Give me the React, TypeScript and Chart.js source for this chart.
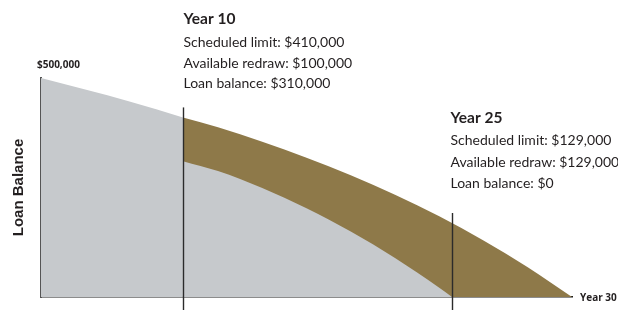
import React, { useEffect, useRef } from "react";
import { Chart, registerables } from "chart.js";

Chart.register(...registerables);

// Horizontal positions are read along the drawn axis (0 = start, 30 = "Year 30").
const earlyPos = [0, 2.5, 5, 8.02];
const earlyLimit = [500000, 473560, 446370, 410000];

const latePos = [8.02, 10, 12.5, 15, 17.5, 20, 22.5, 25, 27.5, 30];
const lateLimit = [410000, 387330, 354250, 318010, 278010, 233610, 184200, 129200, 68030, 0];

const balancePos = [8.02, 10, 12.5, 15, 17.5, 20, 22.5, 23.22];
const balanceValues = [310000, 287400, 248600, 202600, 149500, 88900, 21000, 0];

const markerPos = [8.02, 23.22];
const markerLimit = [410000, 169000];
const markerTitles = ["Year 10", "Year 25"];
const markerLines = [
  ["Scheduled limit: $410,000", "Available redraw: $100,000", "Loan balance: $310,000"],
  ["Scheduled limit: $129,000", "Available redraw: $129,000", "Loan balance: $0"],
];
const markerTitleY = [19, 118];
const markerLineGap = [20.3, 21.3];
const markerFirstGap = [23.7, 22.7];

const yMaxLabel = "$500,000";
const xEndLabel = "Year 30";
const yTitle = "Loan Balance";

const GRAY = "#C6C9CC";
const BROWN = "#8E7949";
const TEXT = "#231F20";
const FONT = "Lato, 'Open Sans', sans-serif";
const SMALL_FONT = "'Open Sans', Lato, sans-serif";

const toPts = (xs: number[], ys: number[]) => xs.map((x, i) => ({ x, y: ys[i] }));

export default function App() {
  const ref = useRef<HTMLCanvasElement | null>(null);

  useEffect(() => {
    document.body.style.margin = "0";
    const canvas = ref.current;
    if (!canvas) return;

    const annot = {
      id: "annot",
      afterDatasetsDraw(chart: any) {
        const { ctx, chartArea, scales } = chart;
        const xs = scales.x;
        const ys = scales.y;
        ctx.save();
        markerPos.forEach((p, i) => {
          const px = Math.round(xs.getPixelForValue(p)) + 0.5;
          const top = ys.getPixelForValue(markerLimit[i]) - 10;
          ctx.strokeStyle = "#2b2b2b";
          ctx.lineWidth = 1.4;
          ctx.beginPath();
          ctx.moveTo(px, top);
          ctx.lineTo(px, chart.height);
          ctx.stroke();

          const tx = px - (i === 0 ? 0 : 2);
          ctx.fillStyle = TEXT;
          ctx.textBaseline = "middle";
          ctx.textAlign = "left";
          ctx.font = `bold 15.5px ${FONT}`;
          ctx.fillText(markerTitles[i], tx, markerTitleY[i]);
          ctx.font = `14px ${FONT}`;
          markerLines[i].forEach((t, j) => {
            ctx.fillText(t, tx, markerTitleY[i] + markerFirstGap[i] + j * markerLineGap[i]);
          });
        });
        ctx.fillStyle = TEXT;
        ctx.font = `bold 10px ${SMALL_FONT}`;
        ctx.textBaseline = "middle";
        ctx.textAlign = "left";
        ctx.fillText(yMaxLabel, chartArea.left - 4, ys.getPixelForValue(500000) - 13);
        ctx.fillText(xEndLabel, chartArea.right + 8, chartArea.bottom + 1);
        ctx.restore();
      },
    };

    const common = {
      borderWidth: 0,
      pointRadius: 0,
      fill: "origin",
      cubicInterpolationMode: "monotone",
    };

    const chart = new Chart(canvas, {
      type: "line",
      data: {
        datasets: [
          { label: "Loan balance", data: toPts(balancePos, balanceValues), backgroundColor: GRAY, ...common },
          { label: "Loan balance (early)", data: toPts(earlyPos, earlyLimit), backgroundColor: GRAY, ...common },
          { label: "Scheduled limit", data: toPts(latePos, lateLimit), backgroundColor: BROWN, ...common },
        ],
      },
      options: {
        animation: false,
        responsive: false,
        maintainAspectRatio: false,
        layout: { padding: { left: 0, right: 46, top: 78, bottom: 0 } },
        plugins: { legend: { display: false }, tooltip: { enabled: false } },
        scales: {
          x: {
            type: "linear",
            min: 0,
            max: 30,
            ticks: { display: false },
            grid: { display: false, drawTicks: false },
            border: { display: true, color: "#1a1a1a", width: 1.5 },
            afterFit: (s: any) => {
              s.height = 13;
            },
          },
          y: {
            min: 0,
            max: 500000,
            ticks: { display: false },
            grid: { display: false, drawTicks: false },
            border: { display: true, color: "#555555", width: 2 },
            title: {
              display: true,
              text: yTitle,
              color: TEXT,
              font: { family: "'Liberation Sans', Arial, sans-serif", size: 15, weight: "bold" },
              padding: { top: 10, bottom: 0 },
            },
            afterFit: (s: any) => {
              s.width = 41;
            },
          },
        },
      },
      plugins: [annot],
    } as any);
    return () => chart.destroy();
  }, []);

  return (
    <div style={{ width: 618, height: 310 }}>
      <canvas ref={ref} width={618} height={310} />
    </div>
  );
}
